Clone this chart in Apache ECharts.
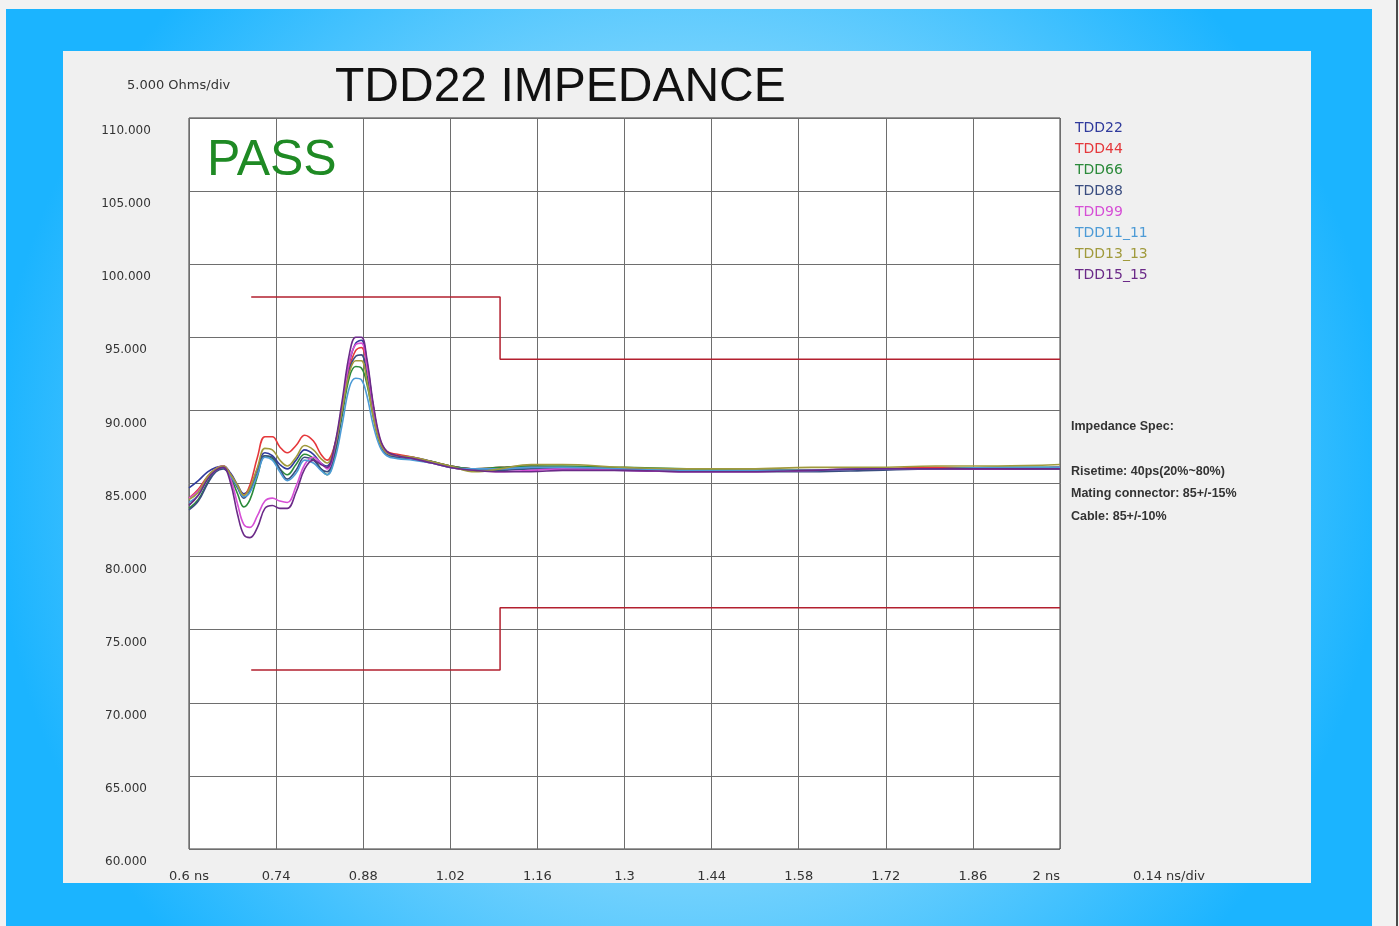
<!DOCTYPE html>
<html>
<head>
<meta charset="utf-8">
<title>TDD22 IMPEDANCE</title>
<script src="https://cdn.jsdelivr.net/npm/echarts@6/dist/echarts.min.js"></script>
<style>
  html, body { margin: 0; padding: 0; background: #f2f2f2; }
  #myChart { width: 1399px; height: 926px; }
</style>
</head>
<body>
<div id="myChart"></div>
<script>
// time samples (ns)
const timeNs = [
  0.6, 0.615, 0.63, 0.643, 0.655, 0.667, 0.678, 0.688, 0.698, 0.71, 0.722,
  0.734, 0.746, 0.758, 0.772, 0.786, 0.80, 0.812, 0.822, 0.834, 0.846, 0.858,
  0.868, 0.877, 0.886, 0.896, 0.907, 0.918, 0.935, 0.96, 0.99, 1.02, 1.06,
  1.1, 1.15, 1.2, 1.3, 1.4, 1.5, 1.6, 1.7, 1.8, 1.9, 2.0
]

// impedance traces (Ohms)
const tdd22 = [
  84.7, 85.2, 85.8, 86.1, 86.2, 85.7, 84.9, 84.3, 84.7, 86.0, 87.1,
  86.9, 86.3, 86.0, 86.6, 87.3, 87.0, 86.4, 86.2, 87.5, 90.3, 93.3,
  94.6, 94.8, 93.3, 90.3, 87.9, 87.1, 86.9, 86.8, 86.5, 86.2, 86.0,
  86.0, 86.1, 86.1, 86.0, 86.0, 85.9, 85.9, 86.0, 86.0, 86.0, 86.1
]
const tdd44 = [
  84.0, 84.6, 85.5, 86.0, 86.2, 85.6, 84.8, 84.2, 84.9, 86.8, 88.2,
  88.2, 87.5, 87.1, 87.6, 88.3, 87.9, 87.0, 86.6, 87.6, 90.0, 92.9,
  94.1, 94.3, 93.0, 90.3, 88.0, 87.2, 87.0, 86.8, 86.5, 86.2, 86.0,
  86.1, 86.2, 86.1, 86.0, 85.9, 85.9, 85.9, 86.0, 86.1, 86.0, 86.1
]
const tdd66 = [
  83.3, 83.9, 85.1, 85.9, 86.1, 85.4, 84.3, 83.4, 83.9, 85.5, 86.9,
  86.7, 86.0, 85.6, 86.3, 87.0, 86.7, 86.0, 85.6, 86.9, 89.6, 92.3,
  93.0, 92.9, 91.8, 89.6, 87.7, 87.0, 86.8, 86.7, 86.5, 86.2, 86.0,
  86.1, 86.2, 86.2, 86.1, 86.0, 85.9, 85.9, 86.0, 86.0, 86.1, 86.1
]
const tdd88 = [
  83.2, 83.8, 85.0, 85.8, 86.0, 85.5, 84.7, 84.0, 84.5, 85.7, 86.9,
  86.8, 86.0, 85.3, 85.9, 86.8, 86.6, 86.0, 85.8, 87.1, 89.9, 92.8,
  93.7, 93.8, 92.4, 89.9, 87.8, 87.0, 86.8, 86.7, 86.5, 86.1, 85.9,
  85.9, 86.0, 86.0, 85.9, 85.8, 85.8, 85.8, 85.9, 86.0, 86.0, 86.0
]
const tdd99 = [
  84.0, 84.5, 85.4, 86.0, 86.2, 85.3, 83.6, 82.2, 82.0, 82.8, 83.8,
  84.0, 83.8, 83.7, 84.8, 86.3, 86.8, 86.4, 86.0, 87.4, 90.2, 93.4,
  94.5, 94.6, 93.1, 90.2, 87.9, 87.1, 86.9, 86.7, 86.4, 86.1, 85.9,
  85.8, 85.9, 86.0, 85.9, 85.8, 85.8, 85.9, 86.0, 86.0, 86.0, 86.1
]
const tdd11 = [
  83.7, 84.2, 85.3, 85.9, 86.1, 85.5, 84.8, 84.1, 84.4, 85.6, 86.8,
  86.6, 85.8, 85.2, 85.7, 86.6, 86.4, 85.9, 85.6, 86.6, 89.0, 91.6,
  92.2, 92.1, 91.0, 89.0, 87.5, 86.9, 86.7, 86.6, 86.4, 86.1, 86.0,
  86.0, 86.1, 86.1, 86.0, 85.9, 85.9, 85.9, 86.0, 86.0, 86.1, 86.1
]
const tdd13 = [
  83.9, 84.4, 85.5, 86.0, 86.2, 85.6, 84.9, 84.2, 84.7, 86.1, 87.4,
  87.3, 86.6, 86.2, 86.8, 87.6, 87.3, 86.7, 86.4, 87.5, 90.0, 92.6,
  93.4, 93.4, 92.0, 89.6, 87.8, 87.1, 86.9, 86.8, 86.5, 86.2, 85.8,
  86.0, 86.3, 86.3, 86.1, 86.0, 86.0, 86.1, 86.1, 86.2, 86.2, 86.3
]
const tdd15 = [
  83.5, 84.2, 85.3, 85.9, 86.1, 85.0, 82.9, 81.5, 81.3, 82.0, 83.3,
  83.5, 83.3, 83.3, 84.4, 86.0, 86.6, 86.3, 86.1, 87.6, 90.6, 93.9,
  95.0, 95.0, 93.5, 90.5, 88.1, 87.2, 86.9, 86.7, 86.4, 86.1, 85.9,
  85.8, 85.8, 85.9, 85.9, 85.8, 85.8, 85.9, 86.0, 86.0, 86.0, 86.0
]

const traceNames = ['TDD22', 'TDD44', 'TDD66', 'TDD88', 'TDD99', 'TDD11_11', 'TDD13_13', 'TDD15_15']
const traceData = [tdd22, tdd44, tdd66, tdd88, tdd99, tdd11, tdd13, tdd15]
const traceColors = ['#2f3a9c', '#e5383b', '#2b8a3a', '#3a4d80', '#d64fd6', '#4d9bd6', '#a09a3c', '#6b2a88']

// spec limit masks: [ns, Ohms]
const upperLimit = [[0.7, 97.75], [1.1, 97.75], [1.1, 93.5], [2.0, 93.5]]
const lowerLimit = [[0.7, 72.25], [1.1, 72.25], [1.1, 76.5], [2.0, 76.5]]

// tick labels, one per division
const xTickLabels = ['0.6 ns', '0.74', '0.88', '1.02', '1.16', '1.3', '1.44', '1.58', '1.72', '1.86', '2 ns']

const specLines = ['Impedance Spec:', '', 'Risetime: 40ps(20%~80%)', 'Mating connector: 85+/-15%', 'Cable: 85+/-10%']

let myChart = echarts.init(document.getElementById('myChart'))

let series = traceNames.map((name, i) => ({
  name: name,
  type: 'line',
  xAxisIndex: 0,
  yAxisIndex: 0,
  data: timeNs.map((t, j) => [t, traceData[i][j]]),
  smooth: 0.4,
  showSymbol: false,
  color: traceColors[i],
  lineStyle: { width: 1.6 },
  z: 3
}))
// limit lines
;[upperLimit, lowerLimit].forEach(lim => {
  series.push({
    type: 'line',
    data: lim,
    showSymbol: false,
    silent: true,
    lineStyle: { color: '#b3202f', width: 1.5 },
    z: 2
  })
})

myChart.setOption({
  backgroundColor: '#f2f2f2',
  animation: false,
  textStyle: { fontFamily: 'DejaVu Sans' },
  graphic: [
    {
      type: 'rect',
      z: -100,
      shape: { x: 6, y: 9, width: 1366, height: 930 },
      style: {
        fill: {
          type: 'radial', x: 0.5, y: 0.5, r: 0.75,
          colorStops: [
            { offset: 0, color: '#a6e2fc' },
            { offset: 0.6, color: '#6fd0fd' },
            { offset: 1, color: '#1bb4ff' }
          ]
        }
      }
    },
    {
      type: 'rect',
      z: -99,
      shape: { x: 63, y: 51, width: 1248, height: 832 },
      style: { fill: '#f0f0f0' }
    },
    {
      type: 'rect',
      z: -99,
      shape: { x: 1396, y: 0, width: 2, height: 926 },
      style: { fill: '#4a4a4a' }
    },
    {
      type: 'text', z: 100, left: 335, top: 64,
      style: { text: 'TDD22 IMPEDANCE', font: '48px "Liberation Sans"', fill: '#111' }
    },
    {
      type: 'text', z: 100, left: 207, top: 136,
      style: { text: 'PASS', font: '50px "Liberation Sans"', fill: '#1f8a24' }
    },
    {
      type: 'text', z: 100, left: 127, top: 79,
      style: { text: '5.000 Ohms/div', font: '13px "DejaVu Sans"', fill: '#333' }
    },
    {
      type: 'text', z: 100, left: 1133, top: 870,
      style: { text: '0.14 ns/div', font: '13px "DejaVu Sans"', fill: '#333' }
    },
    {
      type: 'text', z: 100, left: 1071, top: 415,
      style: { text: specLines.join('\n'), font: 'bold 12.5px "Liberation Sans"', fill: '#333', lineHeight: 22.5 }
    }
  ],
  legend: {
    orient: 'vertical',
    left: 1064,
    top: 116,
    icon: 'none',
    itemWidth: 1,
    itemHeight: 14,
    itemGap: 7,
    selectedMode: false,
    textStyle: { fontFamily: 'DejaVu Sans', fontSize: 14 },
    data: traceNames.map((n, i) => ({ name: n, textStyle: { color: traceColors[i] } }))
  },
  grid: {
    left: 189,
    top: 118,
    right: 339,
    bottom: 77,
    show: true,
    backgroundColor: '#ffffff',
    borderColor: '#3a3a3a',
    borderWidth: 1
  },
  xAxis: [
    {
      // data axis in ns
      type: 'value',
      min: 0.6,
      max: 2.0,
      show: false
    },
    {
      // division axis for the grid and labels
      type: 'value',
      position: 'bottom',
      min: 0,
      max: 10,
      interval: 1,
      axisLine: { show: false },
      axisTick: { show: false },
      splitLine: { show: true, lineStyle: { color: '#6e6e6e', width: 1 } },
      axisLabel: {
        margin: 21,
        fontSize: 13,
        color: '#333',
        alignMaxLabel: 'right',
        formatter: v => xTickLabels[v]
      }
    }
  ],
  yAxis: {
    type: 'value',
    min: 60,
    max: 110,
    interval: 5,
    axisLine: { show: false },
    axisTick: { show: false },
    splitLine: { show: true, lineStyle: { color: '#6e6e6e', width: 1 } },
    axisLabel: {
      margin: 63,
      align: 'center',
      verticalAlign: 'top',
      padding: [7, 0, 0, 0],
      fontSize: 12,
      color: '#333',
      formatter: v => v.toFixed(3)
    }
  },
  series: series
})
</script>
</body>
</html>
